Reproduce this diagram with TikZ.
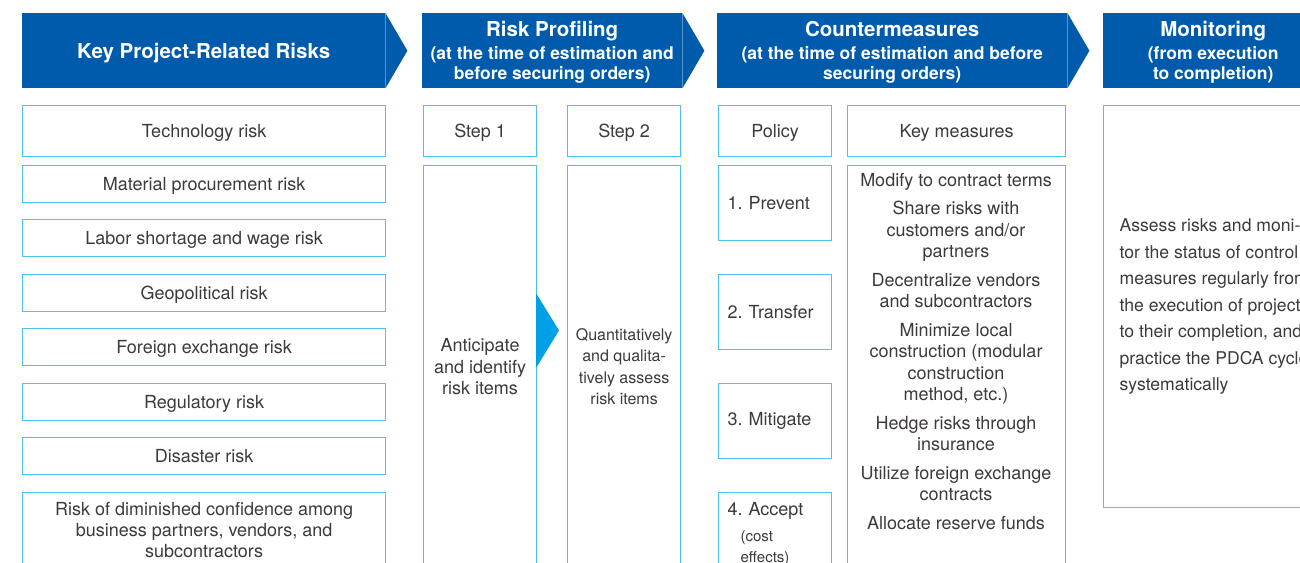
\documentclass[tikz,border=0pt]{standalone}
\usepackage{fontspec}
\setmainfont{TeX Gyre Heros}
\usetikzlibrary{positioning}

\definecolor{bannerblue}{HTML}{005BAC}
\definecolor{boxcyan}{HTML}{4FC3EF}
\definecolor{arrowcyan}{HTML}{00A0E9}
\definecolor{txtgrey}{HTML}{3E3A39}
\newcommand\bantitle{\fontsize{20.5}{24}\selectfont}
\newcommand\smallnote{\fontsize{15}{23}\selectfont\hspace*{13pt}}

\begin{document}
\begin{tikzpicture}[x=1pt,y=-1pt,
    banner/.style={fill=bannerblue, text=white, anchor=north west, inner sep=0pt,
      minimum height=75pt, align=center, text depth=-4pt,
      font=\bfseries\fontsize{17.5}{20}\selectfont},
    box/.style={draw=boxcyan, line width=1.2pt, text=txtgrey, anchor=north west,
      inner sep=0pt, align=center, font=\fontsize{18}{21.3}\selectfont},
    riskbox/.style={box, minimum width=363pt, minimum height=37pt, text depth=0pt},
    stepbox/.style={box, minimum width=113pt, text depth=0pt},
    policybox/.style={box, minimum height=75pt, text width=95pt, inner xsep=9pt, align=left}]
    \clip (0,0) rectangle (1300,562);
    \fill[white] (0,0) rectangle (1300,562);

    % Banners
    \node[banner, minimum width=363pt] (ban1) at (22,13)   {\bantitle Key Project-Related Risks};
    \node[banner, minimum width=260pt] (ban2) at (422,13)  {{\bantitle Risk Profiling}\\[3pt]
        (at the time of estimation and\\ before securing orders)};
    \node[banner, minimum width=350pt] (ban3) at (717,13)  {{\bantitle Countermeasures}\\[3pt]
        (at the time of estimation and before\\ securing orders)};
    \node[banner, minimum width=220pt] (ban4) at (1103,13) {{\bantitle Monitoring}\\[3pt]
        (from execution\\ to completion)};
    \foreach \b in {ban1,ban2,ban3,ban4}
        \fill[bannerblue] (\b.north east) -- ([xshift=22pt]\b.east) -- (\b.south east) -- cycle;

    % Key project-related risks
    \node[riskbox, minimum height=51pt] (tech)  at (22,105) {Technology risk};
    \node[riskbox] (matl)  at (22,165) {Material procurement risk};
    \node[riskbox] (labor) at (22,219) {Labor shortage and wage risk};
    \node[riskbox] (geo)   at (22,274) {Geopolitical risk};
    \node[riskbox] (fx)    at (22,328) {Foreign exchange risk};
    \node[riskbox] (reg)   at (22,383) {Regulatory risk};
    \node[riskbox] (dis)   at (22,437) {Disaster risk};
    \node[riskbox, minimum height=75pt] (conf) at (22,492)
        {Risk of diminished confidence among\\ business partners, vendors, and\\ subcontractors};

    % Risk profiling
    \node[stepbox, minimum height=51pt]  (step1) at (423,105) {Step 1};
    \node[stepbox, minimum height=51pt]  (step2) at (567,105) {Step 2};
    \node[stepbox, minimum height=402pt] (antic) at (423,165) {Anticipate\\ and identify\\ risk items};
    \node[stepbox, minimum height=402pt, font=\fontsize{16}{21.3}\selectfont] (quant) at (567,165)
        {Quantitatively\\ and qualita-\\ tively assess\\ risk items};
    \fill[arrowcyan] (536,293) -- (559,330.5) -- (536,368) -- cycle;

    % Countermeasures
    \node[stepbox, minimum height=51pt] (policy) at (718,105) {Policy};
    \node[box, minimum width=218pt, minimum height=51pt, text depth=0pt] (keym) at (847,105) {Key measures};
    \node[policybox] (prev)   at (718,165) {1.\ Prevent};
    \node[policybox] (trans)  at (718,274) {2.\ Transfer};
    \node[policybox] (mitig)  at (718,383) {3.\ Mitigate};
    \node[policybox, minimum height=83pt] (accept) at (718,492)
        {4.\ Accept\\[4pt] {\smallnote (cost}\\ {\smallnote effects)}};
    \node[box, minimum width=218pt, minimum height=402pt] (meas) at (847,165) {};
    \node[text=txtgrey, anchor=north, inner sep=0pt, align=center,
        font=\fontsize{18}{21.5}\selectfont] (meastext) at (956,173)
        {Modify to contract terms\\[7pt]
         Share risks with\\ customers and/or\\ partners\\[7pt]
         Decentralize vendors\\ and subcontractors\\[7pt]
         Minimize local\\ construction (modular\\ construction\\ method, etc.)\\[7pt]
         Hedge risks through\\ insurance\\[7pt]
         Utilize foreign exchange\\ contracts\\[7pt]
         Allocate reserve funds};

    % Monitoring
    \node[box, minimum height=402pt, inner xsep=16pt, align=left,
        font=\fontsize{17.6}{26.5}\selectfont] (monit) at (1103,105)
        {Assess risks and moni-\\ tor the status of control\\ measures regularly from\\
         the execution of projects\\ to their completion, and\\ practice the PDCA cycle\\
         systematically};

\end{tikzpicture}
\end{document}
